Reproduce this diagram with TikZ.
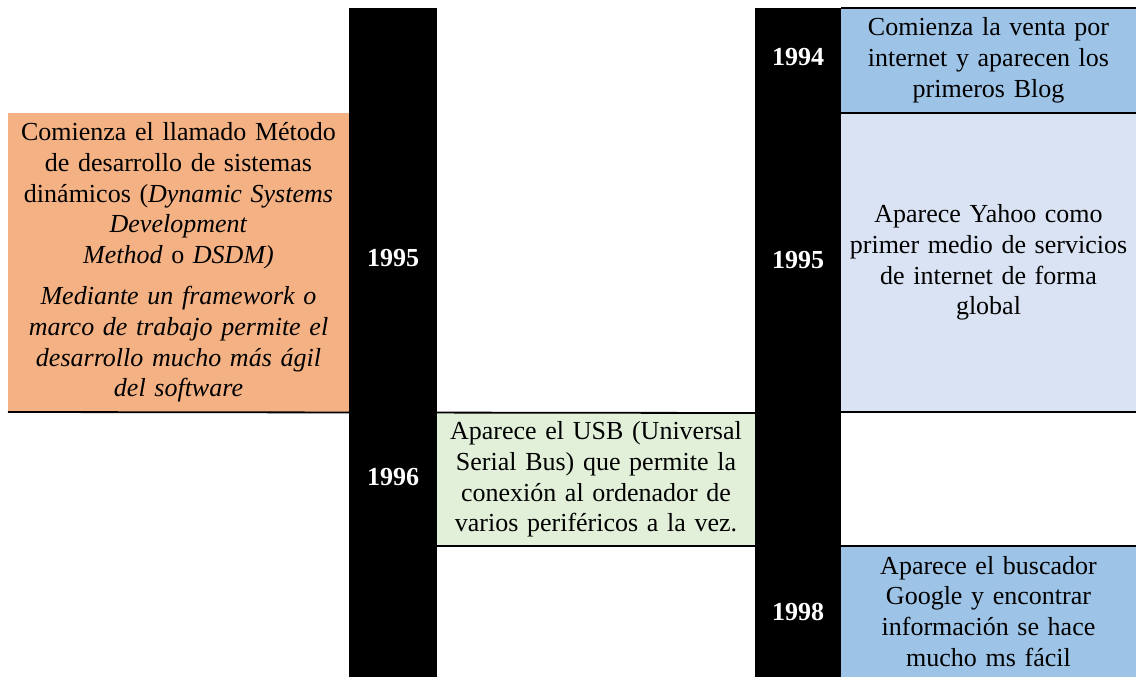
\documentclass[tikz,border=0pt]{standalone}
\usepackage{fontspec}
\setmainfont{Liberation Serif}
\definecolor{orangeC}{HTML}{F4B183}
\definecolor{blueC}{HTML}{9DC3E6}
\definecolor{lblueC}{HTML}{DAE3F3}
\definecolor{greenC}{HTML}{E2F0D9}
\begin{document}
\begin{tikzpicture}[x=1pt,y=-1pt,
  cell/.style={inner sep=0pt, outer sep=0pt, align=center, font=\fontsize{26}{30.8}\selectfont},
  yearlbl/.style={text=white, font=\fontsize{26}{30}\selectfont\bfseries, inner sep=0pt},
  bar/.style={fill=black, draw=none, inner sep=0pt, outer sep=0pt},
  rule/.style={line width=1.8pt, draw=black}]
\useasboundingbox (0,0) rectangle (1136,677);
\fill[white] (0,0) rectangle (1136,677);
% black time bars
\node[bar, minimum width=88pt, minimum height=669pt] (barL) at (393,342.5) {};
\node[bar, minimum width=86pt, minimum height=669pt] (barR) at (798,342.5) {};
% cells
\node[cell, fill=orangeC, minimum width=341pt, minimum height=299pt, text width=335pt] (dsdm) at (178.5,262.5)
 {Comienza el llamado Método\\ de desarrollo de sistemas\\ dinámicos (\textit{Dynamic Systems}\\ \textit{Development}\\ \textit{Method} o \textit{DSDM)}\\[10pt]
  \textit{Mediante un framework o}\\ \textit{marco de trabajo permite el}\\ \textit{desarrollo mucho más ágil}\\ \textit{del software}};
\node[cell, fill=greenC, minimum width=318pt, minimum height=133pt, text width=314pt] (usb) at (596,479.5)
 {Aparece el USB (Universal\\ Serial Bus) que permite la\\ conexión al ordenador de\\ varios periféricos a la vez.};
\node[cell, fill=blueC, minimum width=295pt, minimum height=105pt, text width=293pt] (blog) at (988.5,60.5)
 {Comienza la venta por\\ internet y aparecen los\\ primeros Blog};
\node[cell, fill=lblueC, minimum width=295pt, minimum height=299pt, text width=293pt] (yahoo) at (988.5,262.5)
 {Aparece Yahoo como\\ primer medio de servicios\\ de internet de forma\\ global};
\node[cell, fill=blueC, minimum width=295pt, minimum height=131pt, text width=293pt] (google) at (988.5,611.5)
 {Aparece el buscador\\ Google y encontrar\\ información se hace\\ mucho ms fácil};
% border rules
\draw[rule] (blog.north west) -- (blog.north east);
\draw[rule] (blog.south west) -- (blog.south east);
\draw[rule] (yahoo.south west) -- (yahoo.south east);
\draw[rule] (dsdm.south west) -- (usb.north east);
\draw[rule] (usb.south west) -- (usb.south east);
\draw[rule] (google.north west) -- (google.north east);
% years
\node[yearlbl] (y95a) at (393,258) {1995};
\node[yearlbl] (y96) at (393,477) {1996};
\node[yearlbl] (y94) at (798,57) {1994};
\node[yearlbl] (y95b) at (798,260) {1995};
\node[yearlbl] (y98) at (798,612) {1998};
\end{tikzpicture}
\end{document}
